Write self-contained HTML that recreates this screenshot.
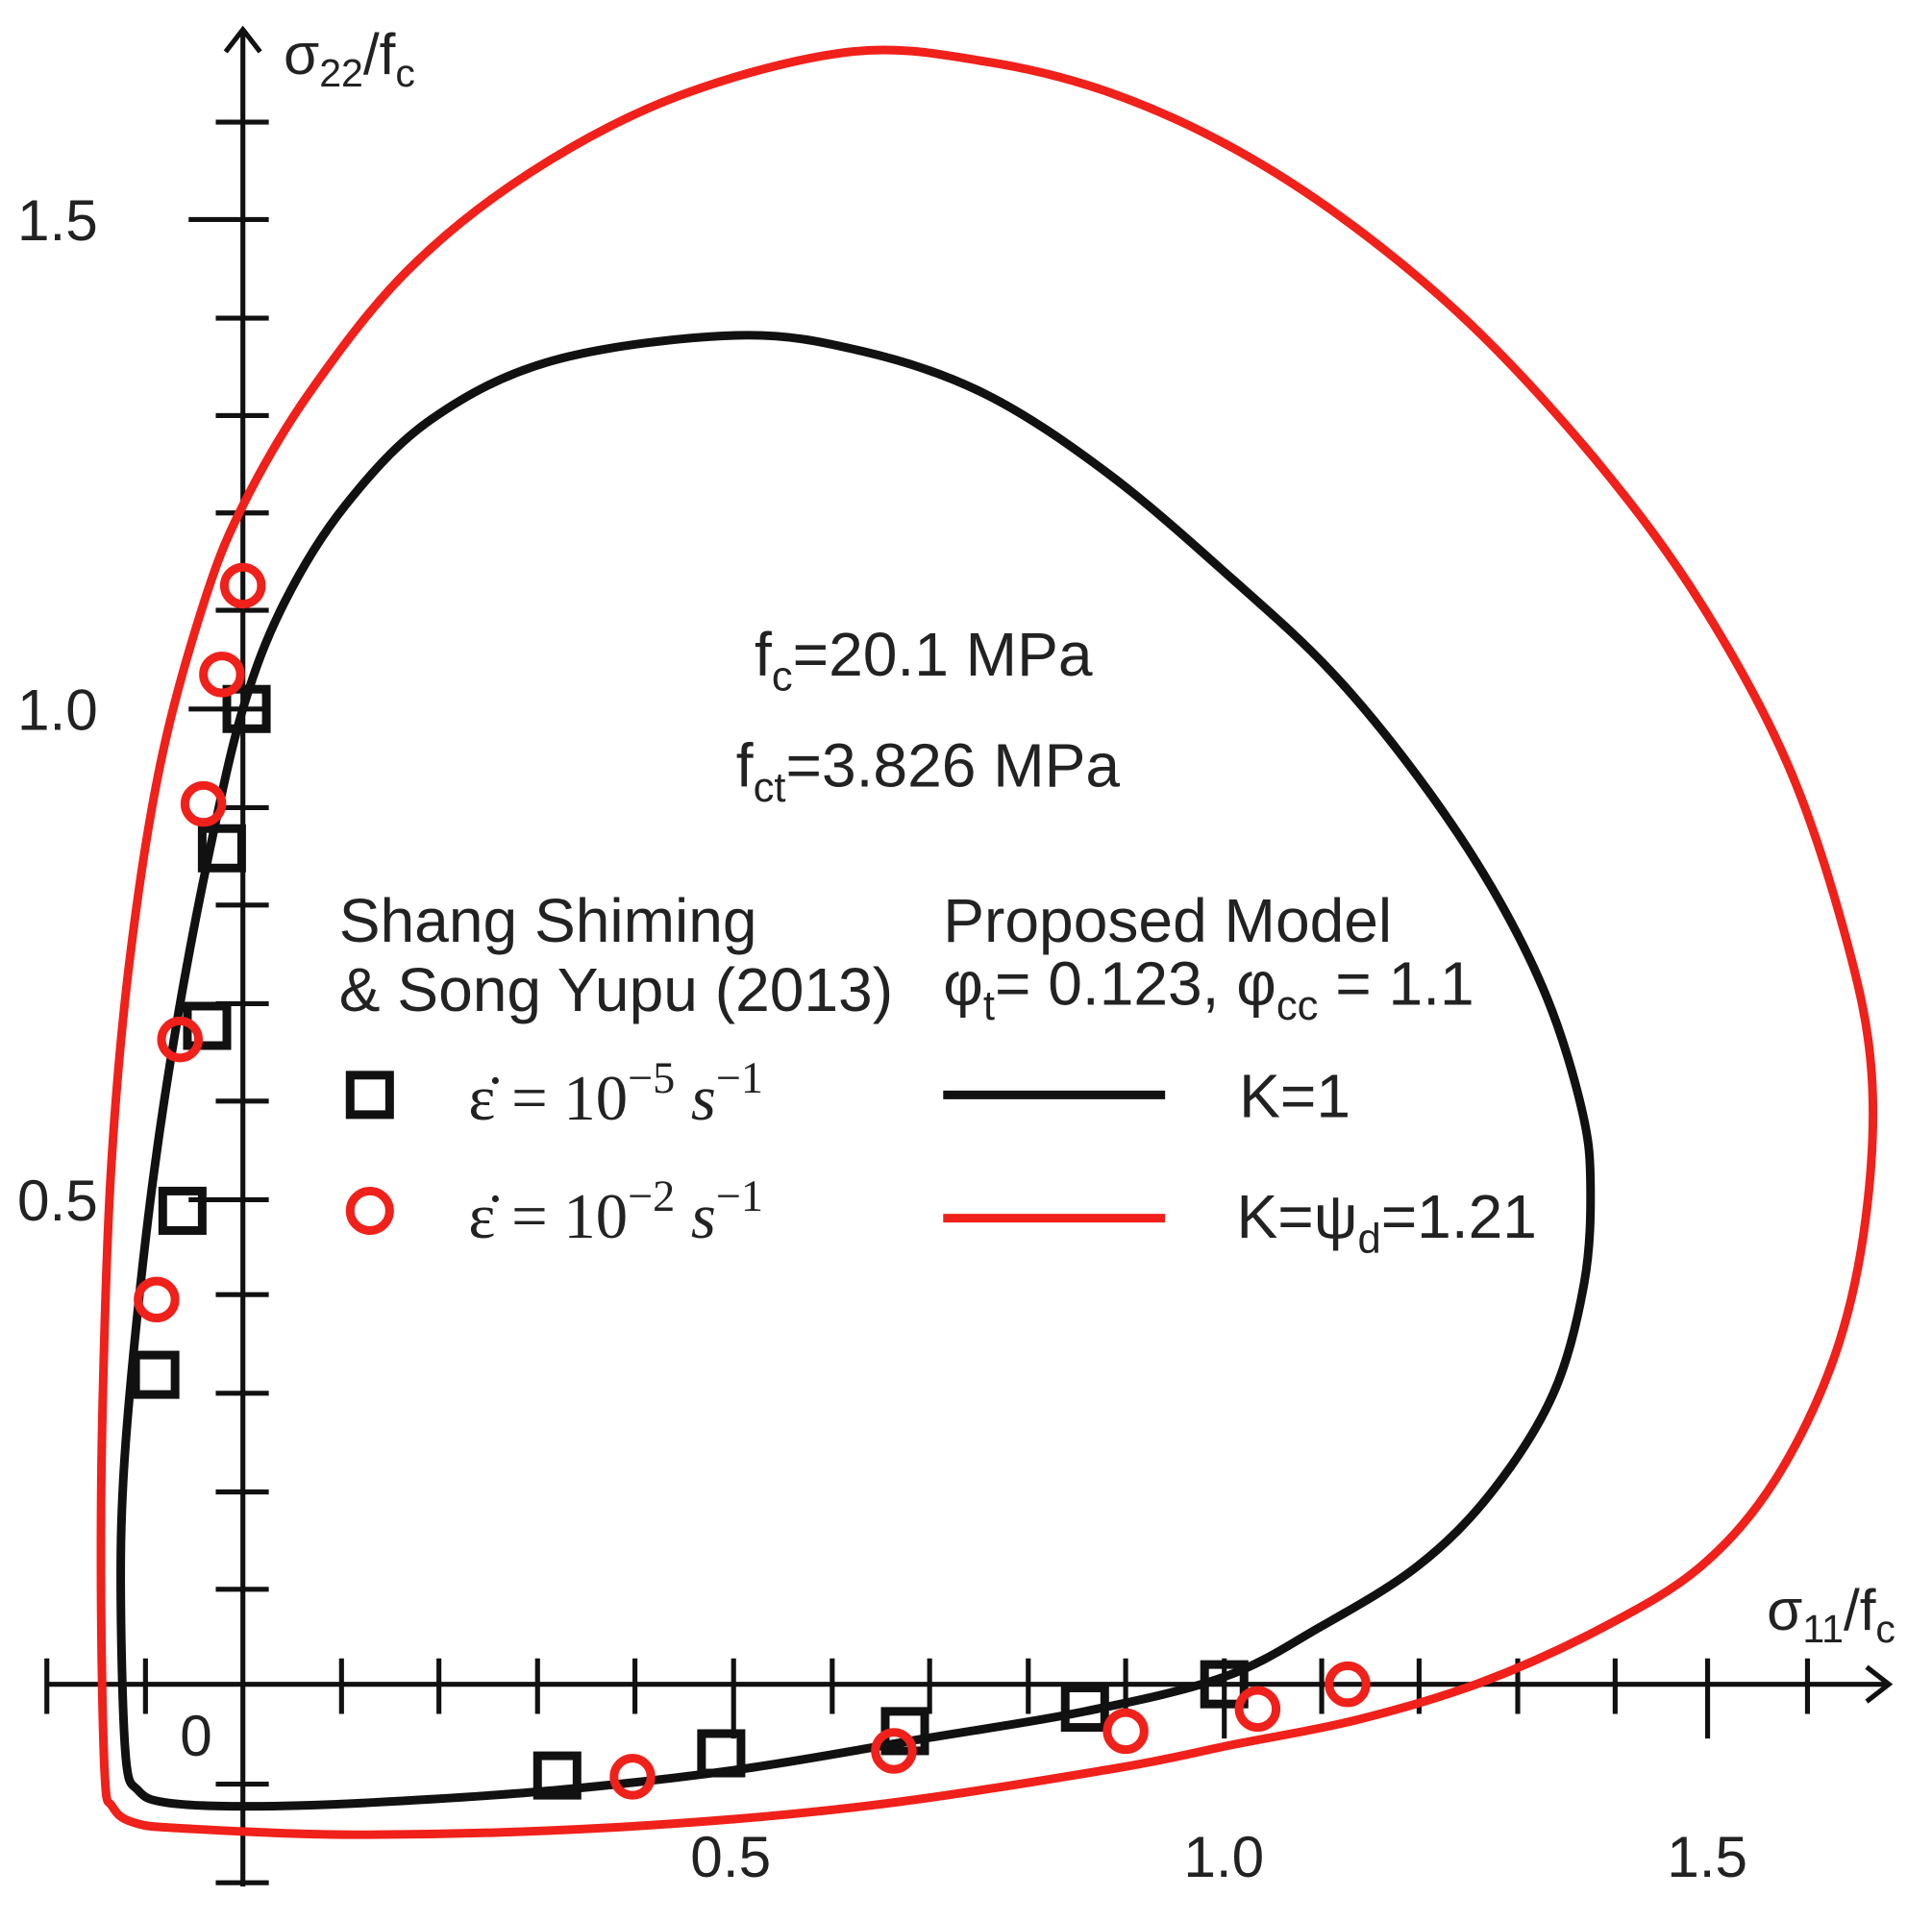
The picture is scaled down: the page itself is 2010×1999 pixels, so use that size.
<!DOCTYPE html>
<html><head><meta charset="utf-8"><style>
html,body{margin:0;padding:0;background:#fff;}
svg{display:block;}
text{font-family:"Liberation Sans",sans-serif;fill:#222;}
</style></head><body>
<svg width="2010" height="1999" viewBox="0 0 1567 1558" preserveAspectRatio="none" xmlns="http://www.w3.org/2000/svg">
<g stroke="#111" stroke-width="4" fill="none">
<line x1="197" y1="24" x2="197" y2="1530"/>
<polyline points="183,42 197,24 211,42"/>
<line x1="38" y1="1366" x2="1532" y2="1366"/>
<polyline points="1514,1352 1532,1366 1514,1380"/>
<path d="M175 99H218M175 258H218M175 337H218M175 416H218M175 495H218M175 655H218M175 734H218M175 814H218M175 893H218M175 1050H218M175 1130H218M175 1210H218M175 1289H218M175 1447H218M175 1527H218"/>
<path d="M153 178H218M153 575H218M153 973H218"/>
<path d="M38 1345V1390M118 1345V1390M277 1345V1390M356 1345V1390M436 1345V1390M515 1345V1390M675 1345V1390M754 1345V1390M834 1345V1390M913 1345V1390M1072 1345V1390M1151 1345V1390M1231 1345V1390M1310 1345V1390M1466 1345V1390"/>
<path d="M595 1345V1410M993 1345V1410M1385 1345V1410"/>
</g>
<path id="red" fill="none" stroke="#f0201a" stroke-width="7" stroke-linejoin="round"/>
<path id="blk" fill="none" stroke="#111" stroke-width="7" stroke-linejoin="round"/>
<g fill="none" stroke="#111" stroke-width="7">
<rect x="184" y="559" width="32" height="32"/><rect x="164" y="672" width="32" height="32"/><rect x="152" y="816" width="32" height="32"/><rect x="132" y="966" width="32" height="32"/><rect x="110" y="1099" width="32" height="32"/><rect x="436" y="1424" width="32" height="32"/><rect x="569" y="1406" width="32" height="32"/><rect x="718" y="1388" width="32" height="32"/><rect x="864" y="1369" width="32" height="32"/><rect x="977" y="1350" width="32" height="32"/>
<rect x="284" y="872" width="32" height="32"/>
</g>
<g fill="none" stroke="#f0201a" stroke-width="7">
<circle cx="197" cy="475" r="15"/><circle cx="180" cy="547" r="15"/><circle cx="165" cy="652" r="15"/><circle cx="146" cy="843" r="15"/><circle cx="127" cy="1054" r="15"/><circle cx="513" cy="1441" r="15"/><circle cx="725" cy="1420" r="15"/><circle cx="913" cy="1404" r="15"/><circle cx="1020" cy="1386" r="15"/><circle cx="1093" cy="1366" r="15"/>
<circle cx="300" cy="982" r="16"/>
</g>
<line x1="765" y1="888" x2="945" y2="888" stroke="#111" stroke-width="7"/>
<line x1="765" y1="988" x2="945" y2="988" stroke="#f0201a" stroke-width="7"/>
<g font-size="47">
<text x="14" y="195">1.5</text><text x="14" y="592">1.0</text><text x="14" y="990">0.5</text>
<text x="146" y="1424">0</text>
<text x="560" y="1522">0.5</text><text x="960" y="1522">1.0</text><text x="1352" y="1522">1.5</text>
<text x="230" y="60">σ<tspan font-size="32" dy="10">22</tspan><tspan dy="-10">/f</tspan><tspan font-size="32" dy="10">c</tspan></text>
<text x="1433" y="1322">σ<tspan font-size="32" dy="10">11</tspan><tspan dy="-10">/f</tspan><tspan font-size="32" dy="10">c</tspan></text>
</g>
<g font-size="50">
<text x="612" y="548">f<tspan font-size="34" dy="12">c</tspan><tspan dy="-12">=20.1 MPa</tspan></text>
<text x="597" y="638">f<tspan font-size="34" dy="12">ct</tspan><tspan dy="-12">=3.826 MPa</tspan></text>
<text x="275" y="764">Shang Shiming</text>
<text x="275" y="820">&amp; Song Yupu (2013)</text>
<text x="765" y="764">Proposed Model</text>
<text x="765" y="815">φ<tspan font-size="34" dy="12">t</tspan><tspan dy="-12">= 0.123, φ</tspan><tspan font-size="34" dy="12">cc</tspan><tspan dy="-12"> = 1.1</tspan></text>
<text x="1005" y="906">K=1</text>
<text x="1003" y="1004">K=ψ<tspan font-size="34" dy="12">d</tspan><tspan dy="-12">=1.21</tspan></text>
</g>
<g font-size="52">
<text x="380" y="908" style="font-family:'Liberation Serif',serif">ε̇ = 10<tspan font-size="36" dy="-22">−5</tspan><tspan dy="22" font-style="italic"> s</tspan><tspan font-size="36" dy="-22">−1</tspan></text>
<text x="380" y="1004" style="font-family:'Liberation Serif',serif">ε̇ = 10<tspan font-size="36" dy="-22">−2</tspan><tspan dy="22" font-style="italic"> s</tspan><tspan font-size="36" dy="-22">−1</tspan></text>
</g>
</svg>
<script>
function cr(p){var n=p.length,d="M"+p[0][0]+","+p[0][1];
for(var i=0;i<n;i++){var p0=p[(i-1+n)%n],p1=p[i],p2=p[(i+1)%n],p3=p[(i+2)%n];
d+=" C"+(p1[0]+(p2[0]-p0[0])/6).toFixed(1)+","+(p1[1]+(p2[1]-p0[1])/6).toFixed(1)+" "+(p2[0]-(p3[0]-p1[0])/6).toFixed(1)+","+(p2[1]-(p3[1]-p1[1])/6).toFixed(1)+" "+p2[0]+","+p2[1];}
return d+"Z";}
var B=[[597,272],[700,285],[800,320],[900,385],[1000,470],[1080,545],[1150,630],[1210,720],[1255,810],[1283,900],[1290,960],[1285,1040],[1260,1130],[1210,1210],[1150,1270],[1070,1320],[993,1360],[880,1388],[750,1410],[600,1435],[450,1452],[300,1462],[200,1465],[135,1462],[112,1452],[102,1425],[98,1300],[100,1200],[110,1080],[125,950],[145,820],[170,690],[197,575],[230,490],[280,410],[350,340],[450,292]];
var R=[[690,42],[800,50],[900,75],[1000,120],[1100,185],[1200,270],[1300,380],[1380,490],[1450,620],[1497,760],[1518,870],[1513,990],[1488,1100],[1440,1200],[1380,1270],[1300,1320],[1200,1365],[1100,1395],[1000,1415],[900,1435],[700,1465],[500,1482],[300,1488],[150,1483],[108,1478],[91,1465],[85,1440],[82,1300],[83,1150],[90,950],[105,780],[130,620],[165,490],[197,410],[250,320],[330,220],[430,140],[550,78]];
document.getElementById("blk").setAttribute("d",cr(B));
document.getElementById("red").setAttribute("d",cr(R));
</script>
</body></html>
